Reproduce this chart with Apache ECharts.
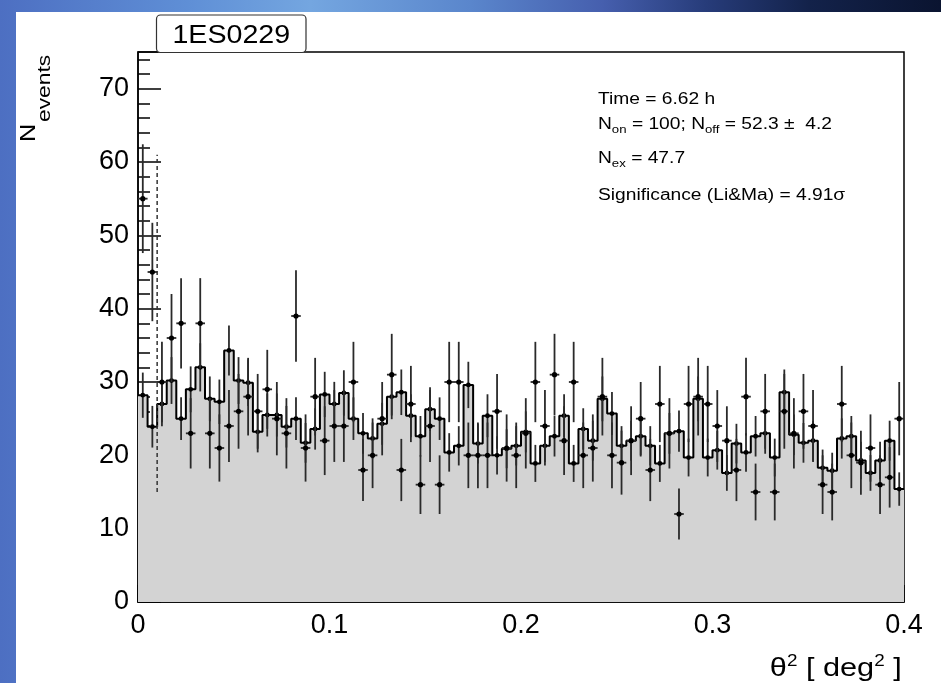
<!DOCTYPE html>
<html>
<head>
<meta charset="utf-8">
<title>1ES0229 theta2</title>
<script src="https://cdn.jsdelivr.net/npm/echarts@6.0.0/dist/echarts.min.js"></script>
<style>
  html, body { margin: 0; padding: 0; }
  body {
    width: 941px; height: 683px; position: relative; overflow: hidden;
    background: linear-gradient(to right, #4d6fc2 0%, #5f8fd6 20%, #74a6e0 33%, #5a86cc 50%,
      #465fae 64%, #273c7a 75%, #13224a 86%, #0a1430 100%);
  }
  #panel { position: absolute; left: 16px; top: 12px; right: 0; bottom: 0; background: #fff; }
  #chart { position: absolute; left: 0; top: 0; width: 941px; height: 683px; }
</style>
</head>
<body>
<div id="panel"></div>
<div id="chart"></div>
<script>
// binning of theta^2 (deg^2)
const binWidth = 0.005;
const nBins = 80;

// ON counts per bin
const onCounts = [
  55, 45, 30, 36, 38, 23, 38, 23, 21, 24,
  26, 28, 26, 29, 25, 23, 39, 21, 28, 22,
  24, 24, 30, 18, 20, 25, 31, 18, 27, 16,
  24, 16, 30, 30, 20, 20, 20, 26, 21, 20,
  23, 30, 24, 31, 22, 30, 20, 21, 28, 20,
  19, 22, 25, 18, 27, 23, 12, 27, 28, 27,
  24, 22, 18, 28, 15, 26, 15, 26, 23, 26,
  24, 16, 15, 27, 20, 19, 21, 16, 17, 25
];

// normalised OFF counts per bin (grey histogram)
const offCounts = [
  28.2, 23.9, 27.0, 30.2, 25.0, 29.0, 32.0, 27.7, 27.3, 34.3,
  30.2, 29.9, 23.2, 25.5, 25.5, 23.9, 25.0, 21.7, 23.6, 28.3,
  27.0, 28.5, 25.0, 23.0, 22.3, 24.3, 28.0, 28.6, 25.4, 22.6,
  26.3, 25.0, 20.4, 21.3, 29.6, 21.6, 25.4, 20.0, 20.9, 21.3,
  23.2, 18.9, 21.3, 22.6, 25.4, 18.9, 23.6, 22.0, 27.7, 25.7,
  21.3, 22.0, 22.6, 21.3, 18.9, 23.0, 23.3, 19.7, 27.7, 19.7,
  20.7, 17.6, 21.6, 20.4, 22.6, 23.0, 19.7, 28.6, 22.8, 21.7,
  22.0, 18.3, 17.9, 22.3, 22.6, 19.3, 17.6, 19.3, 22.0, 15.4
];

// off normalisation from the stats box: err^2 / N_off = 4.2^2 / 52.3
const offAlpha = (4.2 * 4.2) / 52.3;

// theta^2 cut
const cutX = 0.01;
const cutRange = [15, 61];

const statLines = [
  '{m|Time = 6.62 h}',
  '{m|N}{s|on}{m| = 100; N}{s2|off}{m| = 52.3 \u00b1  4.2}',
  '{m|N}{s|ex}{m| = 47.7}',
  '{m|Significance (Li&Ma) = 4.91\u03c3}'
];

const FONT = '"Liberation Sans", Arial, Helvetica, sans-serif';

const histPts = [];
for (let i = 0; i < nBins; i++) histPts.push([i * binWidth, offCounts[i]]);
histPts.push([nBins * binWidth, offCounts[nBins - 1]]);

const onData = onCounts.map((n, i) => [i * binWidth, (i + 1) * binWidth, n, Math.sqrt(n)]);
const offErrData = offCounts.map((v, i) => [(i + 0.5) * binWidth, v, Math.sqrt(offAlpha * v)]);

const barStyle = { stroke: '#2a2a2a', lineWidth: 1.8 };

function renderOn(params, api) {
  const x0 = api.value(0), x1 = api.value(1), n = api.value(2), e = api.value(3);
  const xc = (x0 + x1) / 2;
  const pL = api.coord([x0, n]), pR = api.coord([x1, n]);
  const pT = api.coord([xc, n + e]), pB = api.coord([xc, n - e]);
  const pC = api.coord([xc, n]);
  return {
    type: 'group',
    children: [
      { type: 'line', shape: { x1: pL[0], y1: pL[1], x2: pR[0], y2: pR[1] }, style: barStyle },
      { type: 'line', shape: { x1: pT[0], y1: pT[1], x2: pB[0], y2: pB[1] }, style: barStyle },
      { type: 'circle', shape: { cx: pC[0], cy: pC[1], r: 2.6 }, style: { fill: '#000' } }
    ]
  };
}

function renderOffErr(params, api) {
  const xc = api.value(0), v = api.value(1), e = api.value(2);
  const pT = api.coord([xc, v + e]), pB = api.coord([xc, v - e]);
  const pC = api.coord([xc, v]);
  return {
    type: 'group',
    children: [
      { type: 'line', shape: { x1: pT[0], y1: pT[1], x2: pB[0], y2: pB[1] }, style: barStyle },
      { type: 'circle', shape: { cx: pC[0], cy: pC[1], r: 2.4 }, style: { fill: '#000' } }
    ]
  };
}

const chart = echarts.init(document.getElementById('chart'));

const tickLine = { color: '#000', width: 1.5 };

const statsGraphics = statLines.map((t, k) => ({
  type: 'text',
  x: 598,
  y: [99.5, 125, 159, 196][k],
  scaleX: 1.2,
  style: {
    text: t,
    align: 'left', textAlign: 'left',
    verticalAlign: 'middle', textVerticalAlign: 'middle',
    rich: {
      m: { fontSize: 16, lineHeight: 20, fontFamily: FONT, color: '#000' },
      s: { fontSize: 11, lineHeight: 15, fontFamily: FONT, color: '#000', verticalAlign: 'bottom' },
      s2: { fontSize: 11, lineHeight: 11, fontFamily: FONT, color: '#000', verticalAlign: 'bottom' }
    }
  }
}));

chart.setOption({
  backgroundColor: 'transparent',
  animation: false,
  grid: {
    left: 138, right: 37, top: 52, bottom: 81,
    show: true, borderColor: '#000', borderWidth: 1.5, backgroundColor: 'transparent'
  },
  xAxis: {
    type: 'value', min: 0, max: 0.4, interval: 0.1,
    axisLine: { lineStyle: tickLine },
    axisTick: { inside: true, length: 17, lineStyle: tickLine },
    minorTick: { show: true, splitNumber: 5, length: 9, lineStyle: tickLine },
    splitLine: { show: false },
    axisLabel: { fontSize: 27, color: '#000', fontFamily: FONT, margin: 10 }
  },
  yAxis: [
    {
      type: 'value', min: 0, max: 75, interval: 10,
      axisLine: { show: true, lineStyle: tickLine },
      axisTick: { inside: true, length: 23, lineStyle: tickLine },
      splitLine: { show: false },
      axisLabel: {
        fontSize: 27, color: '#000', fontFamily: FONT, margin: 9,
        formatter: v => (v % 10 === 0 ? String(v) : '')
      }
    },
    {
      type: 'value', min: 0, max: 75, interval: 2, position: 'left',
      axisLine: { show: false },
      axisTick: { inside: true, length: 12, lineStyle: tickLine },
      splitLine: { show: false },
      axisLabel: { show: false }
    }
  ],
  series: [
    {
      type: 'line', step: 'end', data: histPts, symbol: 'none', silent: true,
      lineStyle: { color: '#000', width: 2 },
      areaStyle: { color: '#d3d3d3', opacity: 1 },
      z: 2
    },
    {
      type: 'custom', data: offErrData, renderItem: renderOffErr,
      encode: { x: 0, y: 1 }, silent: true, z: 3
    },
    {
      type: 'custom', data: onData, renderItem: renderOn,
      encode: { x: 0, y: 2 }, silent: true, z: 4
    },
    {
      type: 'line', data: [[cutX, cutRange[0]], [cutX, cutRange[1]]],
      symbol: 'none', silent: true,
      lineStyle: { color: '#333', width: 1.5, type: [4, 3] },
      z: 5
    }
  ],
  graphic: [
    {
      type: 'rect', z: 10,
      shape: { x: 156.5, y: 15, width: 149.5, height: 37.5, r: 4 },
      style: { fill: '#fff', stroke: '#333', lineWidth: 1.2 }
    },
    {
      type: 'text', z: 11, x: 231.3, y: 35.5, scaleX: 1.1,
      style: {
        text: '1ES0229', fontSize: 26, fontFamily: FONT, fill: '#000',
        align: 'center', textAlign: 'center', verticalAlign: 'middle', textVerticalAlign: 'middle'
      }
    },
    {
      type: 'text', x: 901.7, y: 669, scaleX: 1.18,
      style: {
        text: '{m|\u03b8}{p|2}{m| [ deg}{p|2}{m| ]}',
        align: 'right', textAlign: 'right', verticalAlign: 'middle', textVerticalAlign: 'middle',
        rich: {
          m: { fontSize: 26, lineHeight: 30, fontFamily: FONT, color: '#000' },
          p: { fontSize: 16, lineHeight: 16, fontFamily: FONT, color: '#000', verticalAlign: 'top' }
        }
      }
    },
    {
      type: 'text', x: 28.5, y: 142, rotation: Math.PI / 2, scaleX: 1.15,
      style: {
        text: 'N', fontSize: 22, fontFamily: FONT, fill: '#000',
        align: 'left', textAlign: 'left', verticalAlign: 'middle', textVerticalAlign: 'middle'
      }
    },
    {
      type: 'text', x: 45, y: 122, rotation: Math.PI / 2, scaleX: 1.2,
      style: {
        text: 'events', fontSize: 19, fontFamily: FONT, fill: '#000',
        align: 'left', textAlign: 'left', verticalAlign: 'middle', textVerticalAlign: 'middle'
      }
    }
  ].concat(statsGraphics)
});
</script>
</body>
</html>
